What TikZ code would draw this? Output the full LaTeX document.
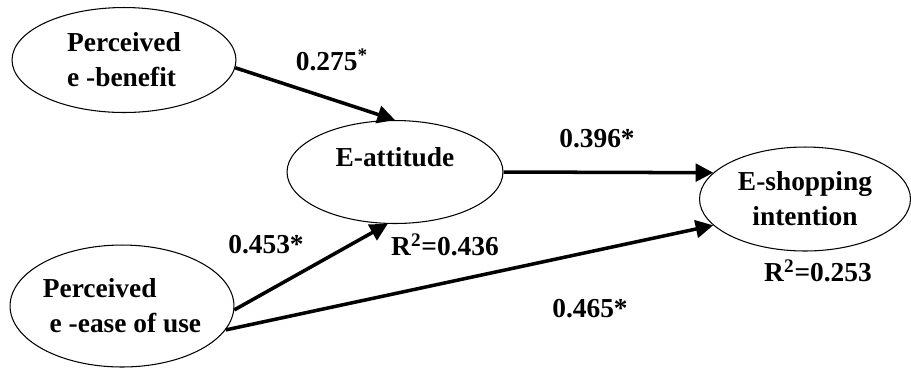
\documentclass[tikz,border=0pt]{standalone}
\usepackage{fontspec}
\setmainfont{Liberation Serif}
\usetikzlibrary{shapes,arrows.meta}

\begin{document}
\begin{tikzpicture}[x=0.02cm, y=-0.02cm,
        every node/.style={font=\fontsize{15.6}{19.9}\selectfont\bfseries, inner sep=0pt},
        construct/.style={draw, ellipse, line width=0.6pt},
        arrow/.style={-{Triangle[length=10pt, width=10pt]}, line width=2pt}
        ]
        \useasboundingbox (0,0) rectangle (911,370);

        % ---------------- Constructs ----------------
        \node[construct, minimum width=4.48cm, minimum height=2.10cm, align=left]
                (benefit) at (124,60) {Perceived\\e -benefit};
        \node[construct, minimum width=4.32cm, minimum height=2.06cm, text depth=17pt]
                (attitude) at (395,172) {E-attitude};
        \node[construct, minimum width=4.22cm, minimum height=2.08cm, align=center]
                (intention) at (805,199) {E-shopping\\intention};
        \node[construct, minimum width=4.34cm, minimum height=2.44cm, align=left]
                (ease) at (122,306) {Perceived\\\hspace{0.25em}e -ease of use};

        % ---------------- Paths ----------------
        \draw[arrow] (benefit.-4)   -- (attitude.north);
        \draw[arrow] (attitude.east) -- (intention.164);
        \draw[arrow] (ease.-2)      -- (attitude.-98);
        \draw[arrow] (ease.-13)     -- (intention.196);

        % ---------------- Coefficients ----------------
        \node (b1) at (332,60)  {0.275\textsuperscript{*}};
        \node (b2) at (597,139) {0.396*};
        \node (b3) at (266,245) {0.453*};
        \node (b4) at (590,309) {0.465*};
        \node (r1) at (445,245) {R\textsuperscript{2}=0.436};
        \node (r2) at (818,271) {R\textsuperscript{2}=0.253};
\end{tikzpicture}
\end{document}
